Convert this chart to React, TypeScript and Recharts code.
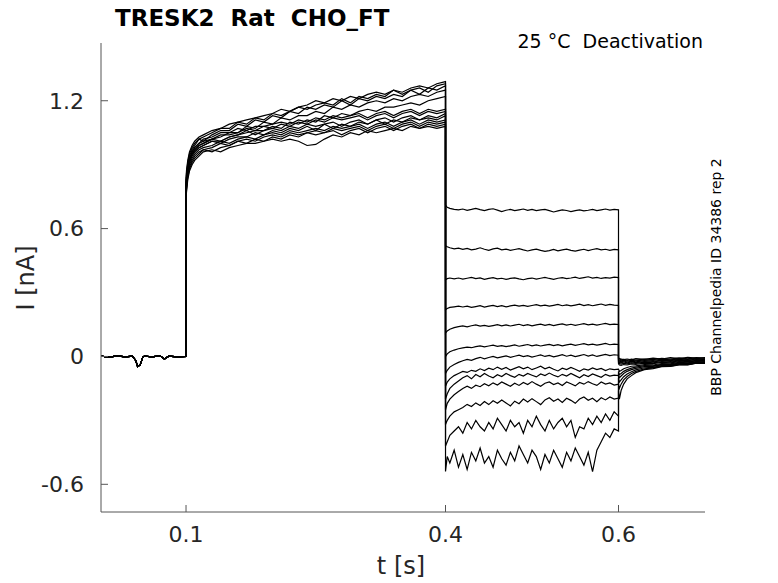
import { Line, LineChart, XAxis, YAxis } from "recharts";

// holding segment, identical for all sweeps
const HOLD_T = [0.002, 0.01, 0.02, 0.03, 0.038, 0.042, 0.044, 0.047, 0.05, 0.052, 0.06, 0.07, 0.075, 0.08, 0.09, 0.1];
const HOLD_I = [0.002, -0.004, 0.003, -0.002, 0.001, -0.02, -0.048, -0.04, -0.003, 0.002, -0.002, 0.003, -0.012, 0.001, -0.002, 0.0];

// activation step 0.1 -> 0.4 s
const ACT_T = [0.1, 0.1005, 0.102, 0.104, 0.107, 0.11, 0.115, 0.12, 0.13, 0.14, 0.15, 0.16, 0.17, 0.18, 0.19, 0.2, 0.21, 0.22, 0.23, 0.24, 0.25, 0.26, 0.27, 0.28, 0.29, 0.3, 0.31, 0.32, 0.33, 0.34, 0.35, 0.36, 0.37, 0.38, 0.39, 0.4];
const ACTIVATION = [
  [0.78, 0.83, 0.88, 0.92, 0.95, 0.97, 0.99, 1.0, 1.02, 1.01, 1.03, 1.04, 1.06, 1.04, 1.06, 1.07, 1.06, 1.08, 1.07, 1.09, 1.08, 1.09, 1.1, 1.08, 1.1, 1.11, 1.09, 1.11, 1.12, 1.1, 1.12, 1.13, 1.11, 1.13, 1.12, 1.14],
  [0.8, 0.85, 0.9, 0.94, 0.97, 0.99, 1.02, 1.01, 1.04, 1.06, 1.06, 1.09, 1.08, 1.11, 1.1, 1.13, 1.12, 1.15, 1.14, 1.17, 1.16, 1.18, 1.17, 1.2, 1.18, 1.21, 1.2, 1.22, 1.21, 1.23, 1.22, 1.25, 1.23, 1.26, 1.25, 1.27],
  [0.74, 0.78, 0.84, 0.88, 0.91, 0.93, 0.95, 0.97, 0.96, 0.98, 0.99, 1.01, 1.0, 1.02, 1.01, 1.03, 1.02, 1.04, 1.03, 1.05, 1.04, 1.05, 1.06, 1.04, 1.06, 1.07, 1.05, 1.07, 1.08, 1.06, 1.08, 1.09, 1.07, 1.09, 1.08, 1.09],
  [0.77, 0.81, 0.87, 0.91, 0.94, 0.96, 0.98, 0.99, 1.01, 1.0, 1.02, 1.03, 1.03, 1.05, 1.04, 1.06, 1.05, 1.07, 1.06, 1.08, 1.06, 1.09, 1.07, 1.09, 1.08, 1.1, 1.09, 1.11, 1.09, 1.11, 1.1, 1.12, 1.11, 1.12, 1.11, 1.13],
  [0.79, 0.84, 0.89, 0.93, 0.95, 0.97, 0.99, 1.0, 1.02, 1.03, 1.05, 1.05, 1.08, 1.07, 1.1, 1.09, 1.12, 1.11, 1.13, 1.13, 1.15, 1.14, 1.17, 1.16, 1.18, 1.17, 1.19, 1.2, 1.19, 1.21, 1.2, 1.22, 1.23, 1.22, 1.24, 1.25],
  [0.76, 0.8, 0.86, 0.9, 0.93, 0.95, 0.97, 0.98, 0.99, 1.01, 1.0, 1.02, 1.03, 1.02, 1.04, 1.05, 1.04, 1.06, 1.05, 1.06, 1.07, 1.06, 1.08, 1.07, 1.08, 1.09, 1.07, 1.09, 1.1, 1.08, 1.1, 1.11, 1.09, 1.11, 1.1, 1.11],
  [0.81, 0.86, 0.91, 0.95, 0.98, 1.0, 1.02, 1.03, 1.05, 1.07, 1.07, 1.1, 1.09, 1.12, 1.11, 1.14, 1.13, 1.15, 1.17, 1.16, 1.18, 1.19, 1.18, 1.21, 1.19, 1.22, 1.21, 1.23, 1.22, 1.25, 1.23, 1.25, 1.26, 1.24, 1.27, 1.28],
  [0.73, 0.77, 0.83, 0.87, 0.9, 0.92, 0.94, 0.96, 0.97, 0.96, 0.98, 0.99, 1.0, 1.0, 1.01, 1.02, 1.01, 1.02, 1.01, 0.99, 0.995, 1.02, 1.04, 1.03, 1.05, 1.04, 1.06, 1.05, 1.06, 1.07, 1.06, 1.08, 1.07, 1.08, 1.07, 1.08],
  [0.78, 0.82, 0.88, 0.92, 0.96, 0.98, 1.0, 1.01, 1.02, 1.04, 1.04, 1.05, 1.07, 1.06, 1.08, 1.07, 1.09, 1.08, 1.1, 1.09, 1.11, 1.1, 1.12, 1.11, 1.12, 1.13, 1.11, 1.13, 1.14, 1.12, 1.14, 1.15, 1.13, 1.15, 1.14, 1.15],
  [0.78, 0.83, 0.88, 0.92, 0.95, 0.96, 0.98, 0.99, 1.01, 1.01, 1.03, 1.04, 1.05, 1.06, 1.06, 1.08, 1.07, 1.1, 1.09, 1.11, 1.1, 1.13, 1.12, 1.14, 1.13, 1.15, 1.16, 1.15, 1.17, 1.17, 1.18, 1.19, 1.18, 1.2, 1.21, 1.22],
  [0.75, 0.79, 0.85, 0.89, 0.92, 0.94, 0.96, 0.97, 0.98, 1.0, 0.99, 1.01, 1.02, 1.01, 1.03, 1.04, 1.03, 1.05, 1.04, 1.05, 1.06, 1.05, 1.07, 1.06, 1.07, 1.08, 1.06, 1.08, 1.09, 1.07, 1.09, 1.1, 1.08, 1.1, 1.09, 1.1],
  [0.82, 0.87, 0.92, 0.96, 0.99, 1.01, 1.03, 1.04, 1.06, 1.07, 1.09, 1.1, 1.11, 1.12, 1.13, 1.14, 1.16, 1.15, 1.17, 1.18, 1.2, 1.19, 1.21, 1.2, 1.22, 1.21, 1.23, 1.24, 1.23, 1.25, 1.24, 1.26, 1.27, 1.26, 1.28, 1.29],
  [0.79, 0.84, 0.89, 0.93, 0.96, 0.98, 1.0, 1.02, 1.03, 1.05, 1.05, 1.07, 1.06, 1.08, 1.08, 1.09, 1.1, 1.09, 1.11, 1.1, 1.12, 1.11, 1.13, 1.12, 1.13, 1.14, 1.12, 1.14, 1.15, 1.13, 1.15, 1.16, 1.14, 1.16, 1.15, 1.16],
];

// deactivation step 0.4 -> 0.6 s
const DEACT_T = [0.4, 0.402, 0.405, 0.41, 0.415, 0.42, 0.425, 0.43, 0.435, 0.44, 0.445, 0.45, 0.455, 0.46, 0.465, 0.47, 0.475, 0.48, 0.485, 0.49, 0.495, 0.5, 0.505, 0.51, 0.515, 0.52, 0.525, 0.53, 0.535, 0.54, 0.545, 0.55, 0.555, 0.56, 0.565, 0.57, 0.575, 0.58, 0.585, 0.59, 0.595, 0.6];
const DEACTIVATION = [
  [0.71, 0.7, 0.695, 0.69, 0.688, 0.692, 0.686, 0.69, 0.695, 0.689, 0.684, 0.69, 0.693, 0.687, 0.68, 0.686, 0.69, 0.684, 0.688, 0.692, 0.686, 0.69, 0.684, 0.688, 0.69, 0.684, 0.678, 0.683, 0.688, 0.685, 0.68, 0.684, 0.688, 0.683, 0.686, 0.69, 0.684, 0.688, 0.692, 0.687, 0.69, 0.688],
  [0.52, 0.515, 0.51, 0.505, 0.508, 0.503, 0.507, 0.5, 0.504, 0.51, 0.503, 0.498, 0.505, 0.508, 0.5, 0.504, 0.498, 0.502, 0.506, 0.5, 0.495, 0.5, 0.504, 0.498, 0.493, 0.497, 0.502, 0.496, 0.5, 0.504, 0.498, 0.494, 0.499, 0.503, 0.497, 0.502, 0.506, 0.5, 0.503, 0.498, 0.502, 0.5],
  [0.36, 0.365, 0.368, 0.364, 0.368, 0.363, 0.367, 0.371, 0.365, 0.369, 0.362, 0.366, 0.37, 0.364, 0.367, 0.362, 0.366, 0.369, 0.364, 0.36, 0.365, 0.368, 0.363, 0.367, 0.371, 0.366, 0.362, 0.367, 0.37, 0.365, 0.368, 0.372, 0.366, 0.37, 0.374, 0.368, 0.371, 0.366, 0.37, 0.368, 0.372, 0.37],
  [0.22, 0.225, 0.23, 0.233, 0.236, 0.232, 0.236, 0.23, 0.234, 0.238, 0.232, 0.236, 0.24, 0.234, 0.238, 0.233, 0.237, 0.241, 0.236, 0.24, 0.235, 0.239, 0.243, 0.237, 0.241, 0.236, 0.24, 0.244, 0.238, 0.242, 0.237, 0.241, 0.245, 0.239, 0.243, 0.238, 0.242, 0.246, 0.24, 0.244, 0.241, 0.24],
  [0.11, 0.12, 0.128, 0.135, 0.14, 0.143, 0.139, 0.144, 0.148, 0.142, 0.146, 0.141, 0.145, 0.149, 0.144, 0.148, 0.143, 0.147, 0.151, 0.145, 0.149, 0.144, 0.148, 0.152, 0.146, 0.15, 0.145, 0.149, 0.153, 0.147, 0.151, 0.146, 0.15, 0.154, 0.148, 0.152, 0.147, 0.151, 0.155, 0.149, 0.152, 0.15],
  [0.0, 0.012, 0.022, 0.03, 0.036, 0.04, 0.044, 0.041, 0.046, 0.05, 0.045, 0.049, 0.053, 0.047, 0.051, 0.046, 0.05, 0.054, 0.048, 0.052, 0.056, 0.05, 0.054, 0.049, 0.053, 0.057, 0.051, 0.055, 0.05, 0.054, 0.058, 0.052, 0.056, 0.06, 0.054, 0.058, 0.053, 0.057, 0.061, 0.055, 0.058, 0.056],
  [-0.08, -0.065, -0.05, -0.038, -0.028, -0.02, -0.014, -0.018, -0.01, -0.004, -0.011, -0.005, 0.0, -0.007, -0.002, 0.003, -0.004, 0.001, 0.006, -0.001, 0.004, -0.003, 0.002, 0.007, 0.0, 0.005, -0.002, 0.003, 0.008, 0.001, 0.006, -0.001, 0.004, 0.009, 0.002, 0.007, 0.0, 0.005, 0.01, 0.004, 0.008, 0.006],
  [-0.14, -0.12, -0.105, -0.09, -0.08, -0.07, -0.075, -0.065, -0.07, -0.058, -0.066, -0.055, -0.062, -0.05, -0.06, -0.052, -0.064, -0.056, -0.048, -0.058, -0.05, -0.062, -0.054, -0.046, -0.058, -0.05, -0.06, -0.068, -0.055, -0.062, -0.052, -0.06, -0.07, -0.058, -0.064, -0.054, -0.062, -0.056, -0.066, -0.058, -0.062, -0.06],
  [-0.2, -0.175, -0.15, -0.13, -0.115, -0.1, -0.09, -0.105, -0.085, -0.095, -0.08, -0.092, -0.1, -0.086, -0.094, -0.08, -0.09, -0.098, -0.084, -0.092, -0.08, -0.088, -0.096, -0.082, -0.09, -0.078, -0.088, -0.096, -0.084, -0.092, -0.08, -0.09, -0.1, -0.086, -0.094, -0.082, -0.09, -0.098, -0.084, -0.092, -0.088, -0.09],
  [-0.25, -0.22, -0.2, -0.18, -0.165, -0.15, -0.14, -0.15, -0.135, -0.142, -0.128, -0.138, -0.124, -0.134, -0.12, -0.13, -0.14, -0.126, -0.136, -0.122, -0.132, -0.118, -0.13, -0.14, -0.126, -0.12, -0.132, -0.124, -0.136, -0.12, -0.128, -0.138, -0.122, -0.13, -0.118, -0.128, -0.136, -0.12, -0.13, -0.124, -0.134, -0.13],
  [-0.32, -0.3, -0.28, -0.26, -0.25, -0.24, -0.225, -0.235, -0.218, -0.23, -0.212, -0.226, -0.208, -0.22, -0.204, -0.218, -0.232, -0.21, -0.222, -0.2, -0.214, -0.198, -0.212, -0.226, -0.204, -0.194, -0.21, -0.2, -0.216, -0.196, -0.206, -0.22, -0.2, -0.19, -0.206, -0.196, -0.212, -0.194, -0.204, -0.19, -0.2, -0.195],
  [-0.42, -0.4, -0.37, -0.35, -0.33, -0.36, -0.31, -0.34, -0.3, -0.33, -0.35, -0.31, -0.34, -0.29, -0.32, -0.35, -0.3, -0.33, -0.31, -0.36, -0.3, -0.33, -0.28, -0.32, -0.35, -0.3, -0.34, -0.31, -0.29, -0.33, -0.3, -0.38, -0.33, -0.34, -0.29, -0.32, -0.28, -0.31, -0.27, -0.3, -0.26, -0.28],
  [-0.54, -0.47, -0.5, -0.44, -0.52, -0.46, -0.53, -0.45, -0.49, -0.43, -0.5, -0.47, -0.52, -0.44, -0.48, -0.51, -0.45, -0.49, -0.42, -0.46, -0.5, -0.44, -0.47, -0.53, -0.46, -0.5, -0.44, -0.48, -0.52, -0.45, -0.49, -0.43, -0.47, -0.51, -0.45, -0.54, -0.44, -0.4, -0.36, -0.38, -0.34, -0.35],
];

// return to holding 0.6 -> 0.7 s
const TAIL_T = [0.6, 0.601, 0.603, 0.606, 0.61, 0.615, 0.62, 0.63, 0.64, 0.65, 0.66, 0.67, 0.68, 0.69, 0.7];
const TAIL = [
  [-0.005, -0.01, -0.012, -0.015, -0.012, -0.016, -0.01, -0.014, -0.008, -0.012, -0.006, -0.01, -0.004, -0.008, -0.005],
  [-0.01, -0.012, -0.016, -0.014, -0.018, -0.013, -0.017, -0.012, -0.015, -0.009, -0.013, -0.007, -0.011, -0.006, -0.009],
  [-0.015, -0.018, -0.02, -0.017, -0.022, -0.018, -0.021, -0.016, -0.019, -0.013, -0.016, -0.011, -0.014, -0.009, -0.012],
  [-0.02, -0.022, -0.025, -0.021, -0.026, -0.022, -0.025, -0.02, -0.023, -0.017, -0.02, -0.014, -0.018, -0.012, -0.015],
  [-0.025, -0.028, -0.03, -0.026, -0.03, -0.026, -0.029, -0.024, -0.026, -0.02, -0.023, -0.017, -0.02, -0.015, -0.017],
  [-0.03, -0.034, -0.036, -0.032, -0.035, -0.03, -0.033, -0.027, -0.03, -0.024, -0.027, -0.021, -0.024, -0.018, -0.02],
  [-0.035, -0.04, -0.042, -0.038, -0.04, -0.035, -0.037, -0.031, -0.034, -0.028, -0.03, -0.024, -0.027, -0.021, -0.023],
  [-0.06, -0.07, -0.066, -0.058, -0.052, -0.046, -0.044, -0.038, -0.04, -0.033, -0.035, -0.028, -0.03, -0.024, -0.026],
  [-0.07, -0.085, -0.08, -0.07, -0.062, -0.055, -0.05, -0.043, -0.044, -0.037, -0.038, -0.031, -0.033, -0.026, -0.028],
  [-0.08, -0.1, -0.092, -0.08, -0.07, -0.062, -0.056, -0.048, -0.047, -0.04, -0.041, -0.034, -0.035, -0.028, -0.03],
  [-0.1, -0.12, -0.11, -0.095, -0.082, -0.072, -0.063, -0.053, -0.051, -0.043, -0.043, -0.036, -0.037, -0.03, -0.031],
  [-0.13, -0.15, -0.13, -0.11, -0.094, -0.08, -0.07, -0.058, -0.054, -0.046, -0.045, -0.038, -0.038, -0.031, -0.032],
  [-0.16, -0.2, -0.16, -0.13, -0.105, -0.09, -0.076, -0.062, -0.057, -0.048, -0.047, -0.04, -0.04, -0.032, -0.033],
];

const X_TICKS = [0.1, 0.4, 0.6];
const Y_TICKS = [-0.6, 0, 0.6, 1.2];

const FONT = "'DejaVu Sans', sans-serif";
const INK = "#262626";
const AXIS = "#555555";

const sweeps = ACTIVATION.map((act, k) => [
  ...HOLD_T.map((t, j) => ({ t, i: HOLD_I[j] })),
  ...ACT_T.map((t, j) => ({ t, i: act[j] })),
  ...DEACT_T.map((t, j) => ({ t, i: DEACTIVATION[k][j] })),
  ...TAIL_T.map((t, j) => ({ t, i: TAIL[k][j] })),
]);

const tickStyle = { fill: INK, fontSize: 22, fontFamily: FONT };

export default function App() {
  return (
    <div style={{ position: "absolute", left: 0, top: 0, width: 778, height: 583, background: "#fff", fontFamily: FONT }}>
      <LineChart width={778} height={583} margin={{ top: 43, right: 73, bottom: 31, left: 41 }}>
        <XAxis
          type="number"
          dataKey="t"
          domain={[0.0017, 0.7]}
          ticks={X_TICKS}
          tickFormatter={(v) => String(v)}
          allowDataOverflow
          height={40}
          stroke={AXIS}
          tickSize={-7}
          tickMargin={21}
          tick={tickStyle}
        />
        <YAxis
          type="number"
          domain={[-0.73, 1.471]}
          ticks={Y_TICKS}
          tickFormatter={(v) => String(v)}
          allowDataOverflow
          width={60}
          stroke={AXIS}
          tickSize={-7}
          tickMargin={24}
          tick={tickStyle}
        />
        {sweeps.map((d, k) => (
          <Line
            key={k}
            data={d}
            dataKey="i"
            type="linear"
            stroke="#000"
            strokeWidth={1.2}
            dot={false}
            activeDot={false}
            isAnimationActive={false}
          />
        ))}
      </LineChart>

      <div style={{ position: "absolute", left: 115, top: 7, fontSize: 23, fontWeight: "bold", lineHeight: 1, color: "#000", whiteSpace: "pre" }}>
        TRESK2  Rat  CHO_FT
      </div>
      <div style={{ position: "absolute", right: 75, top: 32, fontSize: 19, lineHeight: 1, color: "#000", whiteSpace: "pre" }}>
        25 °C  Deactivation
      </div>
      <div style={{ position: "absolute", left: 401, top: 554, transform: "translateX(-50%)", fontSize: 24, lineHeight: 1, color: INK, whiteSpace: "pre" }}>
        t [s]
      </div>
      <div style={{ position: "absolute", left: 26, top: 278, transform: "translate(-50%, -50%) rotate(-90deg)", fontSize: 24, lineHeight: 1, color: INK, whiteSpace: "pre" }}>
        I [nA]
      </div>
      <div style={{ position: "absolute", left: 716, top: 277, transform: "translate(-50%, -50%) rotate(-90deg)", fontSize: 14, lineHeight: 1, color: "#000", whiteSpace: "pre" }}>
        BBP Channelpedia ID 34386 rep 2
      </div>
    </div>
  );
}
